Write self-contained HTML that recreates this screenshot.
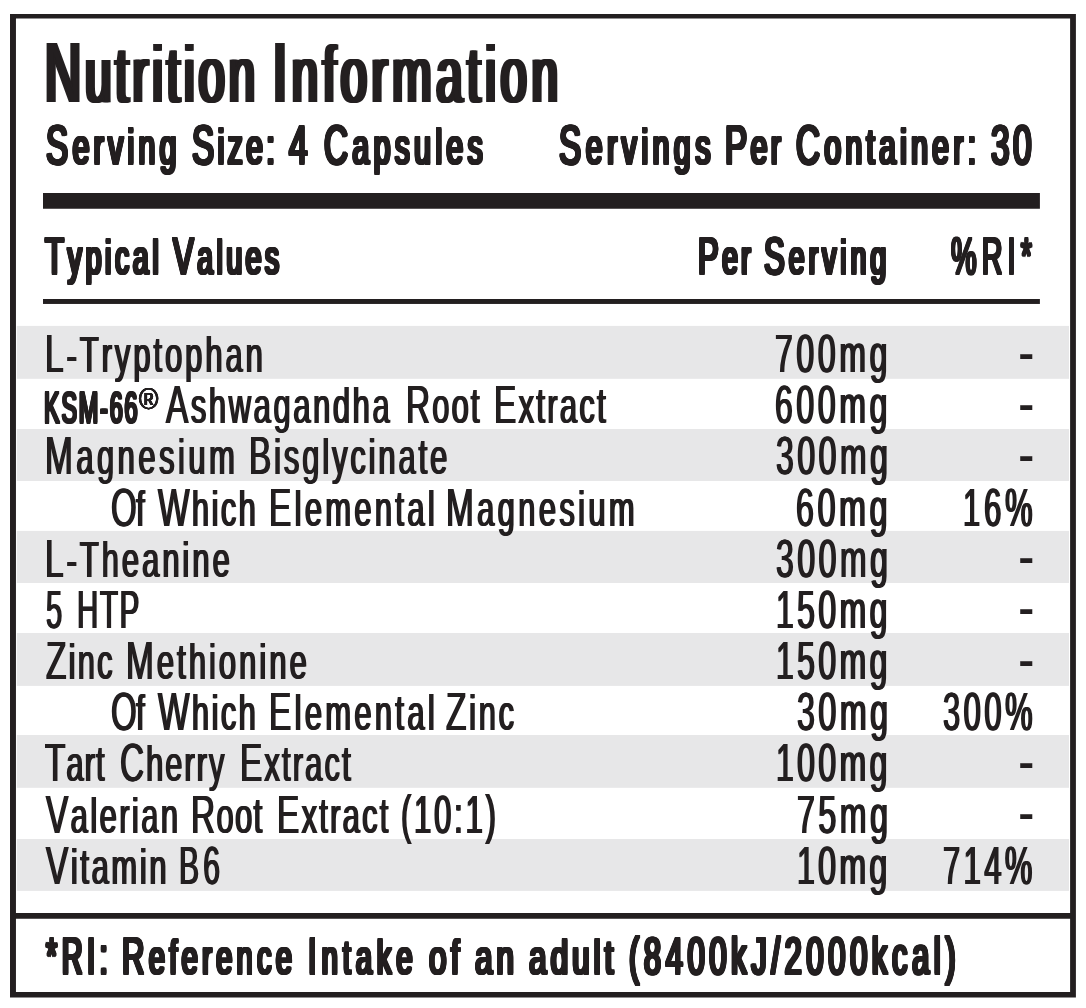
<!DOCTYPE html>
<html lang="en">
<head>
<meta charset="utf-8">
<title>Nutrition Information</title>
<style>
html,body{margin:0;padding:0;background:#fff;}
body{width:1086px;height:1008px;position:relative;overflow:hidden;font-family:"Liberation Sans",sans-serif;color:#231f20;font-kerning:none;}
.deco{position:absolute;left:0;top:0;display:block;}
.ln{margin:0;padding:0;}
.w{position:absolute;display:block;line-height:0;white-space:pre;transform-origin:0 0;}
.t{font-weight:400;font-size:84.74px}
.t.lo,.t.c{font-size:79.50px}
.t.c::first-letter{font-size:84.74px}
.h2{font-weight:400;font-size:55.67px}
.h2.lo,.h2.c{font-size:50.54px}
.h2.c::first-letter{font-size:55.67px}
.h{font-weight:400;font-size:52.33px}
.h.lo,.h.c{font-size:47.89px}
.h.c::first-letter{font-size:52.33px}
.f{font-weight:400;font-size:52.33px}
.f.lo,.f.c{font-size:48.83px}
.f.c::first-letter{font-size:52.33px}
.r{font-weight:400;font-size:53.63px}
.r.lo,.r.c{font-size:49.59px}
.r.c::first-letter{font-size:53.63px}
.k{font-weight:400;font-size:43.75px}
.k.lo,.k.c{font-size:39.37px}
.k.c::first-letter{font-size:43.75px}
.d{font-weight:400;font-size:61.34px}
.d.lo,.d.c{font-size:56.78px}
.d.c::first-letter{font-size:61.34px}
.s{font-weight:400;font-size:28.92px}
.s.lo,.s.c{font-size:27.45px}
.s.c::first-letter{font-size:28.92px}
</style>
</head>
<body>
<svg class="deco" width="1086" height="1008" viewBox="0 0 1086 1008" aria-hidden="true">
<rect x="16.8" y="325.9" width="1052.2" height="52.9" fill="#e7e7e8"/>
<rect x="16.8" y="429.0" width="1052.2" height="52.0" fill="#e7e7e8"/>
<rect x="16.8" y="530.9" width="1052.2" height="52.1" fill="#e7e7e8"/>
<rect x="16.8" y="633.0" width="1052.2" height="52.9" fill="#e7e7e8"/>
<rect x="16.8" y="735.0" width="1052.2" height="52.8" fill="#e7e7e8"/>
<rect x="16.8" y="839.0" width="1052.2" height="51.9" fill="#e7e7e8"/>
<g fill="#231f20">
<rect x="43" y="193" width="996.9" height="15.75"/>
<rect x="43" y="299" width="996.9" height="4.95"/>
<rect x="15" y="913" width="1056" height="5.75"/>
<path fill-rule="evenodd" d="M10 14.1H1075.9V997.6H10Z M15.95 18.55V992.1H1070.1V18.55Z"/>
</g>
</svg>
<div class="ln"><span class="w t c" style="left:44.65px;top:73px;transform:scaleX(0.5900);letter-spacing:7.00px;text-shadow:4.15px 0,-4.15px 0,2.08px 0,-2.08px 0">Nutrition</span> <span class="w t c" style="left:272.74px;top:73px;transform:scaleX(0.5900);letter-spacing:8.35px;text-shadow:4.15px 0,-4.15px 0,2.08px 0,-2.08px 0">Information</span></div>
<div class="ln"><span class="w h2 c" style="left:45.84px;top:145px;transform:scaleX(0.5980);letter-spacing:7.23px;text-shadow:2.26px 0,-2.26px 0,1.13px 0,-1.13px 0,2.26px 0.6px,-2.26px 0.6px,1.13px 0.6px,-1.13px 0.6px,2.26px -0.6px,-2.26px -0.6px,1.13px -0.6px,-1.13px -0.6px,0 0.6px,0 -0.6px">Serving</span> <span class="w h2 c" style="left:191.84px;top:145px;transform:scaleX(0.5980);letter-spacing:5.62px;text-shadow:2.26px 0,-2.26px 0,1.13px 0,-1.13px 0,2.26px 0.6px,-2.26px 0.6px,1.13px 0.6px,-1.13px 0.6px,2.26px -0.6px,-2.26px -0.6px,1.13px -0.6px,-1.13px -0.6px,0 0.6px,0 -0.6px">Size:</span> <span class="w h2" style="left:288.88px;top:145px;transform:scaleX(0.5989);text-shadow:2.25px 0,-2.25px 0,1.13px 0,-1.13px 0,2.25px 0.6px,-2.25px 0.6px,1.13px 0.6px,-1.13px 0.6px,2.25px -0.6px,-2.25px -0.6px,1.13px -0.6px,-1.13px -0.6px,0 0.6px,0 -0.6px">4</span> <span class="w h2 c" style="left:323.76px;top:145px;transform:scaleX(0.5980);letter-spacing:7.30px;text-shadow:2.26px 0,-2.26px 0,1.13px 0,-1.13px 0,2.26px 0.6px,-2.26px 0.6px,1.13px 0.6px,-1.13px 0.6px,2.26px -0.6px,-2.26px -0.6px,1.13px -0.6px,-1.13px -0.6px,0 0.6px,0 -0.6px">Capsules</span></div>
<div class="ln"><span class="w h2 c" style="left:558.94px;top:145px;transform:scaleX(0.5980);letter-spacing:7.59px;text-shadow:2.26px 0,-2.26px 0,1.13px 0,-1.13px 0,2.26px 0.6px,-2.26px 0.6px,1.13px 0.6px,-1.13px 0.6px,2.26px -0.6px,-2.26px -0.6px,1.13px -0.6px,-1.13px -0.6px,0 0.6px,0 -0.6px">Servings</span> <span class="w h2 c" style="left:725.12px;top:145px;transform:scaleX(0.5980);letter-spacing:5.65px;text-shadow:2.26px 0,-2.26px 0,1.13px 0,-1.13px 0,2.26px 0.6px,-2.26px 0.6px,1.13px 0.6px,-1.13px 0.6px,2.26px -0.6px,-2.26px -0.6px,1.13px -0.6px,-1.13px -0.6px,0 0.6px,0 -0.6px">Per</span> <span class="w h2 c" style="left:796.16px;top:145px;transform:scaleX(0.5980);letter-spacing:7.12px;text-shadow:2.26px 0,-2.26px 0,1.13px 0,-1.13px 0,2.26px 0.6px,-2.26px 0.6px,1.13px 0.6px,-1.13px 0.6px,2.26px -0.6px,-2.26px -0.6px,1.13px -0.6px,-1.13px -0.6px,0 0.6px,0 -0.6px">Container:</span> <span class="w h2" style="left:990.88px;top:145px;transform:scaleX(0.6000);letter-spacing:5.71px;text-shadow:2.25px 0,-2.25px 0,1.13px 0,-1.13px 0,2.25px 0.6px,-2.25px 0.6px,1.13px 0.6px,-1.13px 0.6px,2.25px -0.6px,-2.25px -0.6px,1.13px -0.6px,-1.13px -0.6px,0 0.6px,0 -0.6px">30</span></div>
<div class="ln"><span class="w h c" style="left:44.85px;top:256px;transform:scaleX(0.5940);letter-spacing:6.17px;text-shadow:2.27px 0,-2.27px 0,1.14px 0,-1.14px 0,2.27px 0.6px,-2.27px 0.6px,1.14px 0.6px,-1.14px 0.6px,2.27px -0.6px,-2.27px -0.6px,1.14px -0.6px,-1.14px -0.6px,0 0.6px,0 -0.6px">Typical</span> <span class="w h c" style="left:173.21px;top:256px;transform:scaleX(0.5940);letter-spacing:5.87px;text-shadow:2.27px 0,-2.27px 0,1.14px 0,-1.14px 0,2.27px 0.6px,-2.27px 0.6px,1.14px 0.6px,-1.14px 0.6px,2.27px -0.6px,-2.27px -0.6px,1.14px -0.6px,-1.14px -0.6px,0 0.6px,0 -0.6px">Values</span></div>
<div class="ln"><span class="w h c" style="left:698.10px;top:256px;transform:scaleX(0.5940);letter-spacing:5.55px;text-shadow:2.27px 0,-2.27px 0,1.14px 0,-1.14px 0,2.27px 0.6px,-2.27px 0.6px,1.14px 0.6px,-1.14px 0.6px,2.27px -0.6px,-2.27px -0.6px,1.14px -0.6px,-1.14px -0.6px,0 0.6px,0 -0.6px">Per</span> <span class="w h c" style="left:764.44px;top:256px;transform:scaleX(0.5940);letter-spacing:6.74px;text-shadow:2.27px 0,-2.27px 0,1.14px 0,-1.14px 0,2.27px 0.6px,-2.27px 0.6px,1.14px 0.6px,-1.14px 0.6px,2.27px -0.6px,-2.27px -0.6px,1.14px -0.6px,-1.14px -0.6px,0 0.6px,0 -0.6px">Serving</span></div>
<div class="ln"><span class="w h" style="left:950.88px;top:256px;transform:scaleX(0.5493);letter-spacing:9.34px;text-shadow:1.82px 0,-1.82px 0,1.82px 0.6px,-1.82px 0.6px,1.82px -0.6px,-1.82px -0.6px,0 0.6px,0 -0.6px">%RI*</span></div>
<div class="ln"><span class="w r c" style="left:44.71px;top:353px;transform:scaleX(0.6220);letter-spacing:4.82px;text-shadow:1.37px 0,-1.37px 0">L-Tryptophan</span></div>
<div class="ln"><span class="w r" style="left:775.11px;top:353px;transform:scaleX(0.5952);letter-spacing:6.25px;text-shadow:1.43px 0,-1.43px 0">700mg</span></div>
<div class="ln"><span class="w d" style="left:1017.70px;top:352px;transform:scaleX(0.8080)">-</span></div>
<div class="ln"><span class="w k" style="left:44.08px;top:408px;transform:scaleX(0.5340);letter-spacing:3.43px;text-shadow:1.87px 0,-1.87px 0,1.87px 0.6px,-1.87px 0.6px,1.87px -0.6px,-1.87px -0.6px,0 0.6px,0 -0.6px">KSM-66</span><span class="w s" style="left:139.01px;top:399px;transform:scaleX(0.9011);text-shadow:0.44px 0,-0.44px 0,0.44px 0.25px,-0.44px 0.25px,0.44px -0.25px,-0.44px -0.25px,0 0.25px,0 -0.25px">®</span> <span class="w r c" style="left:166.08px;top:404px;transform:scaleX(0.6220);letter-spacing:4.26px;text-shadow:1.37px 0,-1.37px 0">Ashwagandha</span> <span class="w r c" style="left:406.31px;top:404px;transform:scaleX(0.6220);letter-spacing:3.48px;text-shadow:1.37px 0,-1.37px 0">Root</span> <span class="w r c" style="left:494.11px;top:404px;transform:scaleX(0.6220);letter-spacing:3.75px;text-shadow:1.37px 0,-1.37px 0">Extract</span></div>
<div class="ln"><span class="w r" style="left:775.23px;top:404px;transform:scaleX(0.5952);letter-spacing:6.20px;text-shadow:1.43px 0,-1.43px 0">600mg</span></div>
<div class="ln"><span class="w d" style="left:1017.70px;top:403px;transform:scaleX(0.8080)">-</span></div>
<div class="ln"><span class="w r c" style="left:44.61px;top:455px;transform:scaleX(0.6220);letter-spacing:5.68px;text-shadow:1.37px 0,-1.37px 0">Magnesium</span> <span class="w r c" style="left:248.61px;top:455px;transform:scaleX(0.6220);letter-spacing:4.67px;text-shadow:1.37px 0,-1.37px 0">Bisglycinate</span></div>
<div class="ln"><span class="w r" style="left:775.63px;top:455px;transform:scaleX(0.5952);letter-spacing:6.03px;text-shadow:1.43px 0,-1.43px 0">300mg</span></div>
<div class="ln"><span class="w d" style="left:1017.70px;top:454px;transform:scaleX(0.8080)">-</span></div>
<div class="ln"><span class="w r c" style="left:110.59px;top:507px;transform:scaleX(0.6148);letter-spacing:-0.81px;text-shadow:1.38px 0,-1.38px 0">Of</span> <span class="w r c" style="left:157.90px;top:507px;transform:scaleX(0.6220);letter-spacing:3.93px;text-shadow:1.37px 0,-1.37px 0">Which</span> <span class="w r c" style="left:268.51px;top:507px;transform:scaleX(0.6220);letter-spacing:5.40px;text-shadow:1.37px 0,-1.37px 0">Elemental</span> <span class="w r c" style="left:446.41px;top:507px;transform:scaleX(0.6220);letter-spacing:5.45px;text-shadow:1.37px 0,-1.37px 0">Magnesium</span></div>
<div class="ln"><span class="w r" style="left:796.12px;top:507px;transform:scaleX(0.5997);letter-spacing:6.14px;text-shadow:1.42px 0,-1.42px 0">60mg</span></div>
<div class="ln"><span class="w r" style="left:963.00px;top:507px;transform:scaleX(0.5750);letter-spacing:6.81px;text-shadow:1.48px 0,-1.48px 0">16%</span></div>
<div class="ln"><span class="w r c" style="left:44.71px;top:558px;transform:scaleX(0.6220);letter-spacing:4.87px;text-shadow:1.37px 0,-1.37px 0">L-Theanine</span></div>
<div class="ln"><span class="w r" style="left:775.63px;top:558px;transform:scaleX(0.5952);letter-spacing:6.03px;text-shadow:1.43px 0,-1.43px 0">300mg</span></div>
<div class="ln"><span class="w d" style="left:1017.70px;top:556px;transform:scaleX(0.8080)">-</span></div>
<div class="ln"><span class="w r" style="left:46.28px;top:609px;transform:scaleX(0.5427);text-shadow:1.57px 0,-1.57px 0">5</span> <span class="w r" style="left:77.23px;top:609px;transform:scaleX(0.5500);letter-spacing:3.07px;text-shadow:1.55px 0,-1.55px 0">HTP</span></div>
<div class="ln"><span class="w r" style="left:776.12px;top:609px;transform:scaleX(0.5952);letter-spacing:5.83px;text-shadow:1.43px 0,-1.43px 0">150mg</span></div>
<div class="ln"><span class="w d" style="left:1017.70px;top:607px;transform:scaleX(0.8080)">-</span></div>
<div class="ln"><span class="w r c" style="left:45.79px;top:660px;transform:scaleX(0.6220);letter-spacing:3.63px;text-shadow:1.37px 0,-1.37px 0">Zinc</span> <span class="w r c" style="left:125.91px;top:660px;transform:scaleX(0.6220);letter-spacing:4.97px;text-shadow:1.37px 0,-1.37px 0">Methionine</span></div>
<div class="ln"><span class="w r" style="left:776.12px;top:660px;transform:scaleX(0.5952);letter-spacing:5.83px;text-shadow:1.43px 0,-1.43px 0">150mg</span></div>
<div class="ln"><span class="w d" style="left:1017.70px;top:659px;transform:scaleX(0.8080)">-</span></div>
<div class="ln"><span class="w r c" style="left:110.59px;top:711px;transform:scaleX(0.6148);letter-spacing:-0.81px;text-shadow:1.38px 0,-1.38px 0">Of</span> <span class="w r c" style="left:157.90px;top:711px;transform:scaleX(0.6220);letter-spacing:3.93px;text-shadow:1.37px 0,-1.37px 0">Which</span> <span class="w r c" style="left:268.51px;top:711px;transform:scaleX(0.6220);letter-spacing:5.40px;text-shadow:1.37px 0,-1.37px 0">Elemental</span> <span class="w r c" style="left:446.09px;top:711px;transform:scaleX(0.6220);letter-spacing:4.43px;text-shadow:1.37px 0,-1.37px 0">Zinc</span></div>
<div class="ln"><span class="w r" style="left:796.53px;top:711px;transform:scaleX(0.5997);letter-spacing:5.92px;text-shadow:1.42px 0,-1.42px 0">30mg</span></div>
<div class="ln"><span class="w r" style="left:942.98px;top:711px;transform:scaleX(0.5750);letter-spacing:6.21px;text-shadow:1.48px 0,-1.48px 0">300%</span></div>
<div class="ln"><span class="w r c" style="left:45.10px;top:762px;transform:scaleX(0.6220);letter-spacing:1.72px;text-shadow:1.37px 0,-1.37px 0">Tart</span> <span class="w r c" style="left:120.36px;top:762px;transform:scaleX(0.6220);letter-spacing:3.24px;text-shadow:1.37px 0,-1.37px 0">Cherry</span> <span class="w r c" style="left:240.31px;top:762px;transform:scaleX(0.6220);letter-spacing:3.48px;text-shadow:1.37px 0,-1.37px 0">Extract</span></div>
<div class="ln"><span class="w r" style="left:776.12px;top:762px;transform:scaleX(0.5952);letter-spacing:5.83px;text-shadow:1.43px 0,-1.43px 0">100mg</span></div>
<div class="ln"><span class="w d" style="left:1017.70px;top:761px;transform:scaleX(0.8080)">-</span></div>
<div class="ln"><span class="w r c" style="left:45.70px;top:814px;transform:scaleX(0.6220);letter-spacing:3.95px;text-shadow:1.37px 0,-1.37px 0">Valerian</span> <span class="w r c" style="left:191.21px;top:814px;transform:scaleX(0.6220);letter-spacing:2.25px;text-shadow:1.37px 0,-1.37px 0">Root</span> <span class="w r c" style="left:276.71px;top:814px;transform:scaleX(0.6220);letter-spacing:3.67px;text-shadow:1.37px 0,-1.37px 0">Extract</span> <span class="w r" style="left:401.14px;top:814px;transform:scaleX(0.5750);letter-spacing:5.00px;text-shadow:1.48px 0,-1.48px 0">(10:1)</span></div>
<div class="ln"><span class="w r" style="left:796.70px;top:814px;transform:scaleX(0.5997);letter-spacing:5.82px;text-shadow:1.42px 0,-1.42px 0">75mg</span></div>
<div class="ln"><span class="w d" style="left:1017.70px;top:812px;transform:scaleX(0.8080)">-</span></div>
<div class="ln"><span class="w r c" style="left:45.70px;top:865px;transform:scaleX(0.6220);letter-spacing:4.27px;text-shadow:1.37px 0,-1.37px 0">Vitamin</span> <span class="w r" style="left:179.38px;top:865px;transform:scaleX(0.5614);letter-spacing:7.43px;text-shadow:1.51px 0,-1.51px 0">B6</span></div>
<div class="ln"><span class="w r" style="left:797.40px;top:865px;transform:scaleX(0.5997);letter-spacing:5.43px;text-shadow:1.42px 0,-1.42px 0">10mg</span></div>
<div class="ln"><span class="w r" style="left:943.17px;top:865px;transform:scaleX(0.5750);letter-spacing:6.09px;text-shadow:1.48px 0,-1.48px 0">714%</span></div>
<div class="ln"><span class="w f" style="left:46.29px;top:956px;transform:scaleX(0.5480);letter-spacing:8.44px;text-shadow:2.46px 0,-2.46px 0,1.23px 0,-1.23px 0,2.46px 0.6px,-2.46px 0.6px,1.23px 0.6px,-1.23px 0.6px,2.46px -0.6px,-2.46px -0.6px,1.23px -0.6px,-1.23px -0.6px,0 0.6px,0 -0.6px">*RI:</span> <span class="w f c" style="left:122.10px;top:956px;transform:scaleX(0.5950);letter-spacing:7.23px;text-shadow:2.27px 0,-2.27px 0,1.13px 0,-1.13px 0,2.27px 0.6px,-2.27px 0.6px,1.13px 0.6px,-1.13px 0.6px,2.27px -0.6px,-2.27px -0.6px,1.13px -0.6px,-1.13px -0.6px,0 0.6px,0 -0.6px">Reference</span> <span class="w f c" style="left:307.88px;top:956px;transform:scaleX(0.5950);letter-spacing:8.35px;text-shadow:2.27px 0,-2.27px 0,1.13px 0,-1.13px 0,2.27px 0.6px,-2.27px 0.6px,1.13px 0.6px,-1.13px 0.6px,2.27px -0.6px,-2.27px -0.6px,1.13px -0.6px,-1.13px -0.6px,0 0.6px,0 -0.6px">Intake</span> <span class="w f lo" style="left:428.93px;top:957px;transform:scaleX(0.6450);letter-spacing:6.53px;text-shadow:2.09px 0,-2.09px 0,1.05px 0,-1.05px 0,2.09px 0.6px,-2.09px 0.6px,1.05px 0.6px,-1.05px 0.6px,2.09px -0.6px,-2.09px -0.6px,1.05px -0.6px,-1.05px -0.6px,0 0.6px,0 -0.6px">of</span> <span class="w f lo" style="left:474.81px;top:957px;transform:scaleX(0.6450);letter-spacing:6.13px;text-shadow:2.09px 0,-2.09px 0,1.05px 0,-1.05px 0,2.09px 0.6px,-2.09px 0.6px,1.05px 0.6px,-1.05px 0.6px,2.09px -0.6px,-2.09px -0.6px,1.05px -0.6px,-1.05px -0.6px,0 0.6px,0 -0.6px">an</span> <span class="w f lo" style="left:529.11px;top:957px;transform:scaleX(0.6450);letter-spacing:6.27px;text-shadow:2.09px 0,-2.09px 0,1.05px 0,-1.05px 0,2.09px 0.6px,-2.09px 0.6px,1.05px 0.6px,-1.05px 0.6px,2.09px -0.6px,-2.09px -0.6px,1.05px -0.6px,-1.05px -0.6px,0 0.6px,0 -0.6px">adult</span> <span class="w f" style="left:629.24px;top:956px;transform:scaleX(0.5890);letter-spacing:7.94px;text-shadow:2.29px 0,-2.29px 0,1.15px 0,-1.15px 0,2.29px 0.6px,-2.29px 0.6px,1.15px 0.6px,-1.15px 0.6px,2.29px -0.6px,-2.29px -0.6px,1.15px -0.6px,-1.15px -0.6px,0 0.6px,0 -0.6px">(8400kJ/2000kcal)</span></div>
</body>
</html>
